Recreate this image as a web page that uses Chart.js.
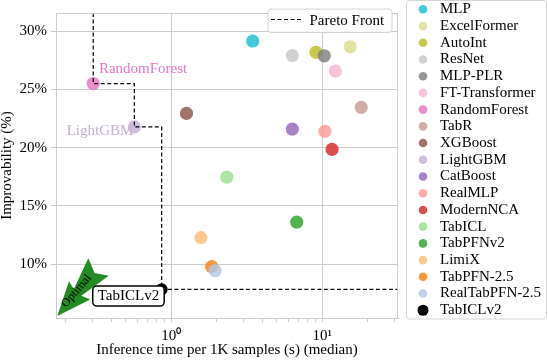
<!DOCTYPE html>
<html><head><meta charset="utf-8">
<script src="https://cdn.jsdelivr.net/npm/chart.js@4/dist/chart.umd.min.js"></script>
<style>html,body{margin:0;padding:0;background:#fff}canvas{display:block}</style>
</head><body>
<canvas id="c" width="548" height="360"></canvas>
<script>
// ---------- data ----------
const models = ['MLP','ExcelFormer','AutoInt','ResNet','MLP-PLR','FT-Transformer','RandomForest','TabR','XGBoost','LightGBM','CatBoost','RealMLP','ModernNCA','TabICL','TabPFNv2','LimiX','TabPFN-2.5','RealTabPFN-2.5','TabICLv2'];
const inferenceTime = [3.46, 15.3, 9.08, 6.33, 10.3, 12.2, 0.304, 18.1, 1.26, 0.569, 6.33, 10.4, 11.6, 2.33, 6.77, 1.57, 1.85, 1.95, 0.863];
const improvability = [29.15, 28.65, 28.18, 27.9, 27.88, 26.56, 25.5, 23.46, 22.94, 21.78, 21.59, 21.39, 19.86, 17.48, 13.62, 12.29, 9.8, 9.45, 7.85];
const colors = ['#17becf','#dbdb8d','#bcbd22','#c7c7c7','#7f7f7f','#f7b6d2','#e377c2','#c49c94','#8c564b','#c5b0d5','#9467bd','#ff9896','#d62728','#98df8a','#2ca02c','#ffbb78','#ff7f0e','#aec7e8','#000000'];
const yTicks = [10, 15, 20, 25, 30];
const xMajorTicks = [1, 10];
const xMajorLabels = ['10\u2070', '10\u00b9'];
const xMinorTicks = [0.2,0.3,0.4,0.5,0.6,0.7,0.8,0.9,2,3,4,5,6,7,8,9,20,30];
const labeledModels = ['RandomForest', 'LightGBM'];
const highlightModel = 'TabICLv2';

// ---------- helpers ----------
const X_MIN = 0.1723, X_MAX = 31.71, Y_MIN = 5.39, Y_MAX = 31.55;
const GRID = '#cbcbcb';
const FONT = "'Liberation Serif', 'Times New Roman', serif";
function rgba(hex, a){const v=parseInt(hex.slice(1),16);return `rgba(${v>>16&255},${v>>8&255},${v&255},${a})`;}
const last = models.length - 1;

// Pareto front (step) from the data
const order = models.map((_, i) => i).sort((a, b) => inferenceTime[a] - inferenceTime[b]);
const front = []; let best = Infinity;
for (const i of order) if (improvability[i] < best) { best = improvability[i]; front.push(i); }
const paretoPts = [{x: inferenceTime[front[0]], y: Y_MAX}];
front.forEach((i, k) => {
  paretoPts.push({x: inferenceTime[i], y: improvability[i]});
  const nx = k + 1 < front.length ? inferenceTime[front[k + 1]] : X_MAX;
  paretoPts.push({x: nx, y: improvability[i]});
});

const datasets = models.map((m, i) => ({
  label: m,
  data: [{x: inferenceTime[i], y: improvability[i]}],
  backgroundColor: rgba(colors[i], i === last ? 1 : 0.82),
  borderWidth: 0,
  pointRadius: i === last ? 6 : 6.6,
  pointHoverRadius: i === last ? 6 : 6.6,
  order: i === last ? 1 : (models.length - i + 3)
}));
datasets.push({
  label: 'Pareto Front',
  data: paretoPts,
  showLine: true,
  borderColor: '#000',
  borderWidth: 1.2,
  borderDash: [4, 2.5],
  pointRadius: 0,
  fill: false,
  order: 2
});

// ---------- plugin for annotations / legend ----------
const deco = {
  id: 'deco',
  afterDatasetsDraw(chart) {
    const {ctx, chartArea: a, scales: {x, y}} = chart;
    ctx.save();
    // frame
    ctx.strokeStyle = GRID; ctx.lineWidth = 1;
    ctx.strokeRect(a.left + 0.5, a.top + 0.5, a.right - a.left - 1, a.bottom - a.top);

    // point labels
    ctx.font = `15px ${FONT}`;
    const rf = models.indexOf(labeledModels[0]);
    ctx.fillStyle = colors[rf]; ctx.textAlign = 'left'; ctx.textBaseline = 'alphabetic';
    ctx.fillText(models[rf], x.getPixelForValue(inferenceTime[rf]) + 5.7, y.getPixelForValue(improvability[rf]) - 10.7);
    const lg = models.indexOf(labeledModels[1]);
    ctx.fillStyle = colors[lg]; ctx.textAlign = 'right';
    ctx.fillText(models[lg], x.getPixelForValue(inferenceTime[lg]) - 1, y.getPixelForValue(improvability[lg]) + 8.3);

    // Optimal arrow
    const tip = {x: a.left + 1.3, y: a.bottom - 2};
    const u = {x: 0.655, y: -0.755}, n = {x: 0.755, y: 0.655};
    const P = (al, pe) => [tip.x + al * u.x + pe * n.x, tip.y + al * u.y + pe * n.y];
    const shape = [[0,0],[34,-14],[31,-5],[64,-14.5],[57,0],[64,12.5],[31,5],[34,14]];
    ctx.beginPath();
    shape.forEach((s, k) => { const p = P(s[0], s[1]); k ? ctx.lineTo(p[0], p[1]) : ctx.moveTo(p[0], p[1]); });
    ctx.closePath(); ctx.fillStyle = '#228b22'; ctx.fill();
    const tc = P(31.5, -1.9);
    ctx.save(); ctx.translate(tc[0], tc[1]); ctx.rotate(Math.atan2(u.y, u.x));
    ctx.font = `12px ${FONT}`; ctx.fillStyle = '#000'; ctx.textAlign = 'center'; ctx.textBaseline = 'middle';
    ctx.fillText('Optimal', 0, 0); ctx.restore();

    // highlight box
    const h = models.indexOf(highlightModel);
    const hx = x.getPixelForValue(inferenceTime[h]), hy = y.getPixelForValue(improvability[h]);
    ctx.font = `15px ${FONT}`;
    const tw = ctx.measureText(highlightModel).width;
    const cx = hx - 33.2, base = hy + 10.7;
    ctx.beginPath(); ctx.roundRect(cx - tw / 2 - 5, base - 14, tw + 10, 20, 4);
    ctx.fillStyle = '#fff'; ctx.fill(); ctx.lineWidth = 1.5; ctx.strokeStyle = '#000'; ctx.stroke();
    ctx.fillStyle = '#000'; ctx.textAlign = 'center'; ctx.textBaseline = 'alphabetic';
    ctx.fillText(highlightModel, cx, base);

    // Pareto legend box
    ctx.beginPath(); ctx.roundRect(268, 9, 124, 23.5, 3);
    ctx.fillStyle = 'rgba(255,255,255,0.85)'; ctx.fill(); ctx.lineWidth = 1; ctx.strokeStyle = '#d4d4d4'; ctx.stroke();
    ctx.beginPath(); ctx.setLineDash([4, 2.5]); ctx.moveTo(271, 19.5); ctx.lineTo(302, 19.5);
    ctx.strokeStyle = '#000'; ctx.lineWidth = 1.2; ctx.stroke(); ctx.setLineDash([]);
    ctx.fillStyle = '#000'; ctx.textAlign = 'left'; ctx.textBaseline = 'alphabetic';
    ctx.fillText('Pareto Front', 309.5, 25);
    ctx.restore();
  },
  afterDraw(chart) {
    const {ctx} = chart;
    ctx.save();
    ctx.beginPath(); ctx.roundRect(406.5, 0.5, 140, 318.5, 3);
    ctx.fillStyle = '#fff'; ctx.fill(); ctx.lineWidth = 1; ctx.strokeStyle = '#d4d4d4'; ctx.stroke();
    ctx.font = `15px ${FONT}`; ctx.textAlign = 'left'; ctx.textBaseline = 'middle';
    models.forEach((m, i) => {
      const ry = 9.3 + i * 16.72;
      ctx.beginPath(); ctx.arc(423, ry, i === last ? 5.5 : 4.3, 0, Math.PI * 2);
      ctx.fillStyle = rgba(colors[i], i === last ? 1 : 0.82); ctx.fill();
      ctx.fillStyle = '#000'; ctx.fillText(m, 440, ry);
    });
    ctx.restore();
  }
};

Chart.defaults.font.family = FONT;
Chart.defaults.font.size = 15;
Chart.defaults.color = '#000';

new Chart(document.getElementById('c'), {
  type: 'scatter',
  data: {datasets},
  options: {
    responsive: false, animation: false, devicePixelRatio: 1,
    layout: {padding: {left: 0, top: 2, right: 150, bottom: 0}},
    plugins: {legend: {display: false}, tooltip: {enabled: false}},
    events: [],
    scales: {
      x: {
        type: 'logarithmic', min: X_MIN, max: X_MAX,
        afterBuildTicks(s) {
          s.ticks = [...xMinorTicks, ...xMajorTicks].sort((p, q) => p - q).map(v => ({value: v, major: xMajorTicks.includes(v)}));
        },
        afterFit(s) { s.height = 42; },
        ticks: {
          autoSkip: false, maxRotation: 0, padding: 5,
          callback: v => { const k = xMajorTicks.indexOf(v); return k >= 0 ? xMajorLabels[k] : ''; }
        },
        grid: {
          color: c => (c.tick && xMajorTicks.includes(c.tick.value)) ? GRID : 'rgba(0,0,0,0)',
          tickColor: GRID, tickLength: 4, lineWidth: 1
        },
        border: {color: GRID, width: 1},
        title: {display: true, text: 'Inference time per 1K samples (s) (median)', padding: {top: 0, bottom: 1}, font: {size: 15}}
      },
      y: {
        type: 'linear', min: Y_MIN, max: Y_MAX,
        afterBuildTicks(s) { s.ticks = yTicks.map(v => ({value: v})); },
        afterFit(s) { s.width = 56; },
        ticks: {padding: 4, callback: v => v + '%'},
        grid: {color: GRID, tickColor: GRID, tickLength: 5, lineWidth: 1},
        border: {color: GRID, width: 1},
        title: {display: true, text: 'Improvability (%)', padding: {top: 0, bottom: 0}, font: {size: 15, lineHeight: 1.0}}
      }
    }
  },
  plugins: [deco]
});
</script>
</body></html>
